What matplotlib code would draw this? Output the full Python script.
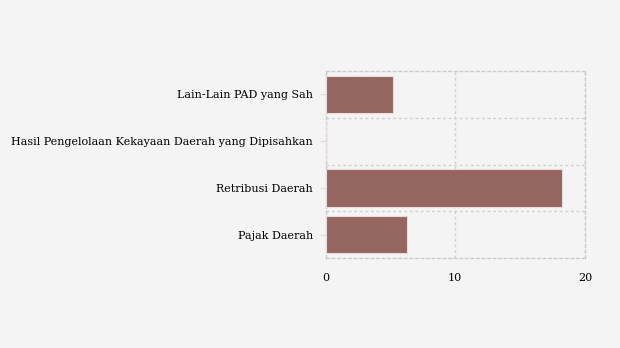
import matplotlib
matplotlib.use('Agg')
import matplotlib.pyplot as plt

### Data ###

categories = ['Pajak Daerah', 'Retribusi Daerah',
              'Hasil Pengelolaan Kekayaan Daerah yang Dipisahkan',
              'Lain-Lain PAD yang Sah']
values = [6.27, 18.2, 0.05, 5.2]
x_ticks = [0, 10, 20]

### Plot ###

plt.rcParams['font.family'] = ['DejaVu Serif']
bg = '#f4f4f4'

fig = plt.figure(figsize=(6.2, 3.48), dpi=100, facecolor=bg)
ax = fig.add_axes([325.5 / 620, 1 - 258 / 348, (585 - 325.5) / 620, (258 - 71) / 348])
ax.set_facecolor(bg)

ax.barh(range(len(categories)), values, height=0.8, color='#956560',
        edgecolor='#e8dcda', linewidth=0.8, zorder=3)

ax.set_xlim(0, 20)
ax.set_ylim(-0.5, len(categories) - 0.5)
ax.set_xticks(x_ticks)
ax.set_yticks(range(len(categories)))
ax.set_yticklabels(categories)

# Dotted grid on both axes, with lines between the bars
ax.grid(True, axis='x', color='#d0d0d0', linestyle=(0, (2, 2)), linewidth=1, zorder=0)
for y in [0.5, 1.5, 2.5]:
    ax.axhline(y, color='#d0d0d0', linestyle=(0, (2, 2)), linewidth=1, zorder=0)

for s in ax.spines.values():
    s.set_color('#cccccc')
    s.set_linestyle((0, (2, 2)))
    s.set_linewidth(1)

ax.tick_params(axis='y', labelsize=8, colors='#dddddd', labelcolor='black', length=4, pad=5)
ax.tick_params(axis='x', labelsize=8, labelcolor='black', length=0, pad=11)

fig.savefig('out.png', dpi=100, facecolor=bg)
